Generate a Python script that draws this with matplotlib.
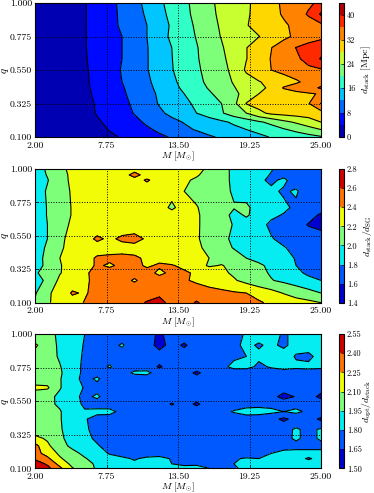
import numpy as np
import matplotlib
matplotlib.use("Agg")
import matplotlib.pyplot as plt

plt.rcParams["font.family"] = ["cmr10"]
plt.rcParams["mathtext.fontset"] = "cm"
plt.rcParams["axes.formatter.use_mathtext"] = True

M = [2, 3, 4, 5, 6, 7, 8, 9, 10, 11, 12, 13, 14, 15, 16, 17, 18, 19, 20, 21, 22, 23, 24, 25]
x_ticks = [2.0, 7.75, 13.5, 19.25, 25.0]
y_ticks = [0.1, 0.325, 0.55, 0.775, 1.0]

# top panel, rows run from q=1 down to q=0.1
q_stack = [1.0, 0.925, 0.85, 0.775, 0.7, 0.625, 0.55, 0.47, 0.43, 0.39, 0.325, 0.26, 0.2, 0.15, 0.1]
d_stack = [
    [1.5, 2, 2.5, 3, 3.8, 5.4, 7, 8.8, 10.8, 13, 15.3, 17.3, 19.2, 21.2, 23.2, 25, 26.3, 27.5, 29, 30.9, 32.6, 34, 35.2, 37],
    [1.5, 2, 2.5, 3, 3.8, 5.4, 7, 8.6, 10.5, 12.5, 14.8, 17, 19, 21, 23, 24.8, 26.2, 27.6, 29, 30.8, 32.4, 34, 36.5, 40.5],
    [1.5, 2, 2.5, 3, 3.8, 5.5, 7, 8.5, 10, 12, 14.2, 16.5, 18.5, 20.6, 22.6, 24.5, 26, 27.8, 29.2, 30.3, 31.5, 32.8, 34, 35],
    [1.5, 2, 2.5, 3, 3.8, 5.4, 6.8, 8, 9.8, 12, 14.4, 16.7, 18.5, 20.2, 22.2, 24.2, 25.8, 27, 27.9, 29.5, 31, 32.8, 34, 35],
    [1.5, 2, 2.5, 3, 3.8, 5.4, 6.8, 8, 9.8, 11.8, 14, 16, 18, 19.8, 21.6, 23.6, 26, 27.9, 30, 31.9, 34.2, 36.1, 37.5, 38.5],
    [1.5, 2, 2.5, 3, 3.7, 5.2, 6.8, 8, 9.8, 11.8, 13.8, 15.9, 17.8, 19.7, 21.4, 23.2, 25.5, 27.9, 30, 32.2, 33.8, 35.2, 37.5, 40.3],
    [1.5, 2, 2.5, 3, 3.6, 5, 6.8, 8.2, 9.8, 11.8, 13.8, 15.8, 17.6, 19.4, 21.2, 22.8, 25, 28.6, 30.3, 32, 33, 34, 35, 35.5],
    [1.5, 2, 2.5, 3, 3.5, 4.9, 6.5, 8, 9.5, 11.3, 13.4, 15.3, 17, 19, 20.8, 22.5, 24.3, 26.3, 27.8, 29, 30.3, 31.5, 33, 34.5],
    [1.5, 2, 2.5, 3, 3.4, 4.8, 6.3, 7.7, 9.3, 11, 13, 15, 16.6, 18.5, 20.3, 22, 23.8, 25.5, 27, 28.8, 32.3, 33.5, 34.5, 36.5],
    [1.4, 1.9, 2.4, 2.9, 3.3, 4.6, 6, 7.5, 9, 10.6, 12.6, 14.6, 16, 17.6, 19.5, 21.3, 23.2, 25.2, 28, 29, 30, 31, 31.6, 32.3],
    [1.3, 1.8, 2.3, 2.7, 3.1, 4.3, 5.6, 7.1, 8.6, 10.2, 12.3, 14, 15.4, 16.5, 18.2, 20, 23, 28.2, 29.5, 30.3, 30.8, 31.3, 31.8, 36.2],
    [1.2, 1.7, 2.1, 2.5, 2.9, 4.2, 5.2, 6.5, 8.2, 9.6, 11.3, 12.9, 14.2, 16, 17.5, 19.6, 22, 24, 27, 28.8, 29.3, 29.7, 30, 30.5],
    [1, 1.4, 1.8, 2.2, 2.6, 3.6, 4.7, 5.9, 7, 8.6, 9.8, 11, 12.2, 13.2, 14.4, 15.3, 16.6, 17.9, 19.4, 21, 23, 24.5, 26, 28],
    [1, 1.2, 1.5, 1.8, 2.2, 2.8, 4.2, 5, 5.8, 7.4, 8.7, 10, 11.2, 12.3, 13.2, 14, 15, 16, 17, 18.2, 19.6, 21, 22.6, 24],
    [0.6, 0.9, 1.2, 1.6, 2, 2.6, 3.3, 4.3, 5.2, 6.2, 7.3, 8.3, 9.3, 10.3, 11.6, 12.4, 13.4, 14.3, 15.2, 16.2, 17, 17.8, 18.6, 19.6],
]
levels_stack = [0, 4, 8, 12, 16, 20, 24, 28, 32, 36, 40, 44]
ticks_stack = [0, 8, 16, 24, 32, 40]

# middle panel
q_ratio = [1.0, 0.96, 0.925, 0.85, 0.74, 0.69, 0.625, 0.53, 0.47, 0.4, 0.35, 0.3, 0.25, 0.165, 0.1]
stack_over_sg = [
    [1.9, 2.03, 2.15, 2.25, 2.28, 2.3, 2.3, 2.32, 2.33, 2.33, 2.33, 2.32, 2.3, 2.26, 2.16, 2.05, 1.97, 1.92, 1.86, 1.81, 1.75, 1.7, 1.65, 1.6],
    [1.91, 2.01, 2.13, 2.24, 2.28, 2.3, 2.3, 2.32, 2.46, 2.33, 2.33, 2.31, 2.27, 2.22, 2.13, 2.05, 1.97, 1.91, 1.85, 1.79, 1.76, 1.72, 1.67, 1.61],
    [1.92, 1.99, 2.12, 2.24, 2.28, 2.3, 2.3, 2.32, 2.33, 2.42, 2.33, 2.3, 2.23, 2.17, 2.1, 2.05, 1.97, 1.9, 1.83, 1.77, 1.83, 1.73, 1.68, 1.62],
    [1.9, 2.02, 2.12, 2.22, 2.27, 2.28, 2.3, 2.31, 2.31, 2.3, 2.28, 2.25, 2.2, 2.15, 2.1, 2.05, 1.98, 1.93, 1.88, 1.83, 1.78, 1.82, 1.7, 1.63],
    [1.88, 2.01, 2.12, 2.21, 2.27, 2.28, 2.3, 2.3, 2.31, 2.3, 2.27, 2.17, 2.27, 2.21, 2.13, 2.07, 2.01, 2.03, 1.93, 1.88, 1.83, 1.77, 1.72, 1.66],
    [1.88, 2.01, 2.12, 2.21, 2.27, 2.28, 2.29, 2.3, 2.3, 2.3, 2.29, 2.27, 2.25, 2.22, 2.14, 2.08, 1.95, 2.02, 1.93, 1.83, 1.79, 1.72, 1.65, 1.58],
    [1.88, 2, 2.13, 2.23, 2.27, 2.29, 2.3, 2.3, 2.31, 2.31, 2.31, 2.29, 2.26, 2.22, 2.14, 2.06, 1.99, 1.93, 1.85, 1.77, 1.72, 1.66, 1.59, 1.56],
    [1.88, 2, 2.16, 2.26, 2.33, 2.43, 2.37, 2.43, 2.45, 2.38, 2.32, 2.29, 2.26, 2.22, 2.13, 2.04, 1.97, 1.92, 1.87, 1.81, 1.76, 1.72, 1.68, 1.66],
    [1.9, 2.03, 2.17, 2.27, 2.31, 2.33, 2.34, 2.34, 2.35, 2.35, 2.33, 2.3, 2.27, 2.23, 2.16, 2.06, 1.99, 1.95, 1.9, 1.85, 1.81, 1.76, 1.72, 1.68],
    [1.92, 2.05, 2.2, 2.27, 2.34, 2.42, 2.43, 2.44, 2.42, 2.38, 2.36, 2.33, 2.29, 2.24, 2.2, 2.13, 2.07, 2, 1.95, 1.9, 1.85, 1.79, 1.74, 1.7],
    [1.93, 2.04, 2.19, 2.26, 2.34, 2.42, 2.38, 2.43, 2.44, 2.38, 2.42, 2.41, 2.37, 2.27, 2.18, 2.21, 2.15, 2.09, 2.03, 1.96, 1.88, 1.8, 1.75, 1.72],
    [1.97, 2.09, 2.19, 2.28, 2.38, 2.44, 2.46, 2.46, 2.46, 2.45, 2.37, 2.43, 2.42, 2.38, 2.31, 2.24, 2.17, 2.11, 2.05, 1.98, 1.92, 1.85, 1.76, 1.66],
    [1.9, 2.05, 2.24, 2.3, 2.37, 2.45, 2.47, 2.46, 2.38, 2.47, 2.46, 2.45, 2.42, 2.37, 2.32, 2.27, 2.22, 2.14, 2.06, 2.01, 1.96, 1.91, 1.86, 1.8],
    [1.98, 2.17, 2.27, 2.42, 2.38, 2.46, 2.49, 2.5, 2.52, 2.54, 2.56, 2.52, 2.5, 2.5, 2.47, 2.45, 2.42, 2.4, 2.34, 2.27, 2.19, 2.12, 2.06, 2],
    [2.02, 2.18, 2.26, 2.33, 2.41, 2.5, 2.53, 2.56, 2.56, 2.61, 2.66, 2.54, 2.53, 2.62, 2.52, 2.5, 2.48, 2.45, 2.42, 2.37, 2.33, 2.28, 2.25, 2.2],
]
levels_ratio = [1.4, 1.6, 1.8, 2.0, 2.2, 2.4, 2.6, 2.8]

# bottom panel
q_opt = [1.0, 0.925, 0.85, 0.78, 0.74, 0.7, 0.64, 0.58, 0.53, 0.48, 0.43, 0.36, 0.3, 0.25, 0.2, 0.165, 0.13, 0.1]
opt_over_stack = [
    [2, 2, 1.92, 1.86, 1.8, 1.76, 1.76, 1.75, 1.75, 1.72, 1.62, 1.72, 1.73, 1.72, 1.74, 1.75, 1.77, 1.81, 1.84, 1.83, 1.79, 1.82, 1.84, 1.85],
    [2.12, 2.03, 1.92, 1.86, 1.79, 1.76, 1.77, 1.81, 1.75, 1.72, 1.6, 1.7, 1.63, 1.72, 1.73, 1.75, 1.78, 1.82, 1.79, 1.82, 1.78, 1.84, 1.86, 1.86],
    [2.06, 2.02, 1.93, 1.86, 1.78, 1.75, 1.76, 1.76, 1.75, 1.74, 1.72, 1.73, 1.72, 1.74, 1.75, 1.76, 1.78, 1.8, 1.82, 1.84, 1.85, 1.79, 1.77, 1.85],
    [2, 2.03, 1.96, 1.84, 1.78, 1.76, 1.81, 1.76, 1.75, 1.74, 1.63, 1.72, 1.73, 1.74, 1.75, 1.77, 1.83, 1.83, 1.78, 1.81, 1.84, 1.82, 1.83, 1.82],
    [2.02, 2.01, 1.97, 1.86, 1.77, 1.75, 1.74, 1.75, 1.82, 1.83, 1.74, 1.73, 1.72, 1.62, 1.72, 1.73, 1.74, 1.74, 1.75, 1.75, 1.75, 1.75, 1.75, 1.75],
    [2.03, 2.03, 1.96, 1.85, 1.76, 1.82, 1.72, 1.73, 1.74, 1.74, 1.73, 1.73, 1.72, 1.7, 1.72, 1.73, 1.74, 1.74, 1.74, 1.74, 1.74, 1.74, 1.74, 1.74],
    [2.13, 2.12, 1.96, 1.86, 1.79, 1.76, 1.74, 1.73, 1.73, 1.73, 1.73, 1.72, 1.72, 1.71, 1.72, 1.73, 1.73, 1.74, 1.74, 1.73, 1.72, 1.72, 1.72, 1.7],
    [2.02, 1.99, 1.92, 1.84, 1.77, 1.82, 1.73, 1.72, 1.73, 1.73, 1.72, 1.72, 1.72, 1.7, 1.72, 1.73, 1.73, 1.73, 1.72, 1.7, 1.6, 1.66, 1.7, 1.62],
    [2, 1.98, 1.93, 1.85, 1.78, 1.75, 1.73, 1.72, 1.72, 1.72, 1.71, 1.64, 1.7, 1.63, 1.71, 1.72, 1.74, 1.75, 1.76, 1.76, 1.75, 1.75, 1.74, 1.73],
    [2.03, 2.02, 1.96, 1.87, 1.81, 1.83, 1.84, 1.76, 1.73, 1.72, 1.72, 1.72, 1.72, 1.72, 1.73, 1.76, 1.81, 1.85, 1.85, 1.83, 1.8, 1.83, 1.77, 1.76],
    [2.05, 2.1, 1.96, 1.87, 1.81, 1.76, 1.74, 1.73, 1.73, 1.72, 1.72, 1.72, 1.72, 1.72, 1.72, 1.73, 1.74, 1.74, 1.73, 1.7, 1.62, 1.7, 1.72, 1.62],
    [2.02, 2.02, 1.97, 1.86, 1.82, 1.76, 1.74, 1.73, 1.73, 1.73, 1.72, 1.72, 1.72, 1.72, 1.73, 1.73, 1.73, 1.74, 1.74, 1.74, 1.75, 1.82, 1.76, 1.82],
    [2.14, 2.08, 1.98, 1.89, 1.83, 1.78, 1.75, 1.74, 1.74, 1.73, 1.73, 1.73, 1.72, 1.72, 1.73, 1.73, 1.73, 1.74, 1.74, 1.75, 1.76, 1.82, 1.76, 1.82],
    [2.3, 2.13, 2, 1.92, 1.87, 1.81, 1.76, 1.75, 1.74, 1.74, 1.73, 1.73, 1.73, 1.72, 1.72, 1.73, 1.73, 1.74, 1.74, 1.75, 1.76, 1.76, 1.76, 1.76],
    [2.3, 2.2, 2.07, 1.99, 1.92, 1.86, 1.79, 1.76, 1.75, 1.75, 1.74, 1.73, 1.73, 1.72, 1.72, 1.73, 1.74, 1.74, 1.76, 1.8, 1.83, 1.84, 1.84, 1.84],
    [2.38, 2.28, 2.12, 2.02, 1.96, 1.9, 1.85, 1.82, 1.79, 1.82, 1.84, 1.79, 1.75, 1.74, 1.74, 1.75, 1.79, 1.81, 1.8, 1.82, 1.82, 1.83, 1.79, 1.83],
    [2.47, 2.38, 2.2, 2.06, 1.99, 1.93, 1.87, 1.83, 1.82, 1.81, 1.81, 1.8, 1.78, 1.79, 1.79, 1.76, 1.8, 1.82, 1.81, 1.84, 1.84, 1.85, 1.84, 1.84],
    [2.52, 2.44, 2.28, 2.11, 2.02, 1.93, 1.88, 1.82, 1.84, 1.84, 1.84, 1.83, 1.83, 1.82, 1.8, 1.77, 1.79, 1.82, 1.84, 1.85, 1.86, 1.86, 1.86, 1.86],
]
levels_opt = [1.5, 1.65, 1.8, 1.95, 2.1, 2.25, 2.4, 2.55]

W, H = 374.0, 493.0


def panel(top, bottom, q, z, levels, cticks, cfmt, clabel, label_x):
    fig = plt.gcf()
    ax = fig.add_axes([35 / W, 1 - bottom / H, 286 / W, (bottom - top) / H])
    qq = np.array(q)[::-1]
    zz = np.array(z)[::-1]
    cs = ax.contourf(M, qq, zz, levels=levels, cmap="jet", extend="neither")
    ax.contour(M, qq, zz, levels=levels, colors="k", linewidths=0.8)
    ax.set_xticks(x_ticks)
    ax.set_xticklabels(["%.2f" % t for t in x_ticks])
    ax.set_yticks(y_ticks)
    ax.set_yticklabels(["%.3f" % t for t in y_ticks])
    ax.set_xlim(2, 25)
    ax.set_ylim(0.1, 1)
    ax.tick_params(direction="in", labelsize=7, length=2.5, width=0.5)
    ax.tick_params(axis="x", pad=3)
    ax.tick_params(axis="y", pad=2)
    ax.grid(True, color="k", linestyle=":", linewidth=0.7)
    ax.set_xlabel(r"$M\ [M_{\odot}]$", fontsize=7, labelpad=0)
    ax.set_ylabel(r"$q$", fontsize=8)
    ax.yaxis.set_label_coords(-0.085, 0.5)
    cax = fig.add_axes([339 / W, 1 - bottom / H, 4.5 / W, (bottom - top) / H])
    cb = plt.colorbar(cs, cax=cax)
    cb.set_ticks(cticks)
    cb.set_ticklabels([cfmt % t for t in cticks])
    cb.ax.tick_params(direction="in", labelsize=6, length=2, width=0.5, pad=2.5)
    cb.set_label(clabel, fontsize=7)
    cb.ax.yaxis.set_label_coords((label_x - 339) / 4.5, 0.5)
    return ax


fig = plt.figure(figsize=(3.74, 4.93), dpi=100)
panel(3, 137, q_stack, d_stack, levels_stack, ticks_stack, "%d",
      r"$d_{\mathrm{stack}}\ [\mathrm{Mpc}]$", 360)
panel(169, 302.7, q_ratio, stack_over_sg, levels_ratio, levels_ratio, "%.1f",
      r"$d_{\mathrm{stack}}/d_{\mathrm{SG}}$", 361)
panel(334, 468.3, q_opt, opt_over_stack, levels_opt, levels_opt, "%.2f",
      r"$d_{\mathrm{opt}}/d_{\mathrm{stack}}$", 361)

plt.savefig("out.png", dpi=100)
